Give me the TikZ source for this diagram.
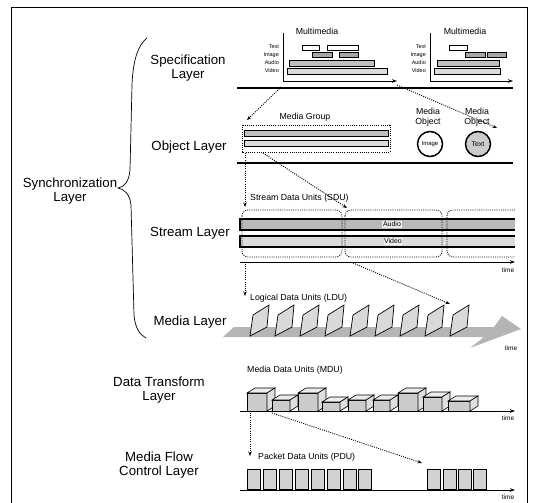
\documentclass[tikz,border=0pt]{standalone}
\usepackage{fontspec}
\setmainfont{Liberation Sans}
\usetikzlibrary{arrows.meta}
\begin{document}
\begin{tikzpicture}[x=1bp,y=-1bp,
  lay/.style={font=\fontsize{13.3}{14.5}\selectfont, align=center, inner sep=0},
  mid/.style={font=\fontsize{8.8}{10.5}\selectfont, inner sep=0, align=center},
  rowlab/.style={font=\fontsize{5.5}{6}\selectfont, inner sep=0, anchor=east},
  timelab/.style={font=\fontsize{6.5}{7}\selectfont, inner sep=0},
  sep/.style={line width=1.4pt},
  axisline/.style={line width=0.8pt},
  axisarr/.style={line width=0.8pt, -{Stealth[length=5pt,width=3.5pt]}},
  dotarr/.style={line width=0.9pt, dash pattern=on 1pt off 1.2pt, -{Stealth[length=4.5pt,width=3.5pt]}},
  dotline/.style={line width=0.8pt, dash pattern=on 1pt off 1.2pt},
  whitebox/.style={draw, line width=0.6pt, fill=white},
  darkbox/.style={draw, line width=0.6pt, fill=gray!70},
  midbox/.style={draw, line width=0.6pt, fill=gray!50},
  lightbox/.style={draw, line width=0.6pt, fill=gray!28},
  unitbox/.style={draw, line width=0.7pt, fill=gray!35},
]
\useasboundingbox (0,0) rectangle (533,503);
% frame
\draw[line width=0.6pt] (11,503) -- (11,7) -- (527,7) -- (527,503);

% layer labels
\node[lay] (spec) at (188,68) {Specification\\Layer};
\node[lay] (obj) at (189,147) {Object Layer};
\node[lay] (sync) at (70,191) {Synchronization\\Layer};
\node[lay] (strm) at (190,233) {Stream Layer};
\node[lay] (medl) at (190,322) {Media Layer};
\node[lay] (dtl) at (159,390) {Data Transform\\Layer};
\node[lay] (mfc) at (159,465) {Media Flow\\Control Layer};

% brace
\draw[line width=0.7pt] (147,38) .. controls (138,45) and (133,60) .. (132,85)
  -- (130,170) .. controls (129,182) and (124,187) .. (118,188)
  .. controls (124,189) and (130,194) .. (131,205)
  -- (134,315) .. controls (135,328) and (140,335) .. (146,338);

% separators
\coordinate (s1l) at (237,88); \coordinate (s1r) at (513,88);
\coordinate (s2l) at (237,163); \coordinate (s2r) at (513,163);
\draw[sep] (s1l) -- (s1r);
\draw[sep] (s2l) -- (s2r);

% ---------- Specification layer ----------
\node[mid] (mm1) at (317,31) {Multimedia};
\node[mid] (mm2) at (465,31) {Multimedia};
\coordinate (g1t) at (283,33); \coordinate (g1o) at (283,81); \coordinate (g1e) at (397,81);
\draw[axisline] (g1t) -- (g1o);
\draw[axisarr] (g1o) -- (g1e);
\node[rowlab] (g1text) at (279,47) {Text};
\node[rowlab] (g1img) at (279,55) {Image};
\node[rowlab] (g1aud) at (279,63) {Audio};
\node[rowlab] (g1vid) at (279,71) {Video};
\draw[whitebox] (302,45) rectangle (319,50);
\draw[whitebox] (327,45) rectangle (358,50);
\draw[darkbox] (312,52.5) rectangle (332,57.5);
\draw[darkbox] (339,52.5) rectangle (358,57.5);
\draw[midbox] (289,60) rectangle (374,66);
\draw[lightbox] (287,68) rectangle (387,74.5);

\coordinate (g2t) at (430,33); \coordinate (g2o) at (430,81); \coordinate (g2e) at (513,81);
\draw[axisline] (g2t) -- (g2o);
\draw[axisarr] (g2o) -- (g2e);
\node[rowlab] (g2text) at (426,47) {Text};
\node[rowlab] (g2img) at (426,55) {Image};
\node[rowlab] (g2aud) at (426,63) {Audio};
\node[rowlab] (g2vid) at (426,71) {Video};
\draw[whitebox] (449,45) rectangle (467,50);
\draw[darkbox] (465,52.5) rectangle (485,57.5);
\draw[darkbox] (487,52.5) rectangle (506,57.5);
\draw[midbox] (437,60) rectangle (499,66);
\draw[lightbox] (434,68) rectangle (500,74.5);

% ---------- Object layer ----------
\node[mid] (mg) at (305,117) {Media Group};
\draw[dotline] (242,125) rectangle (390,152);
\draw[midbox] (244,130) rectangle (388,136);
\draw[lightbox] (244,140) rectangle (388,146);
\node[mid] (mo1) at (428,117) {Media\\Object};
\node[mid] (mo2) at (477,117) {Media\\Object};
\node[circle, draw, line width=1.5pt, fill=white, minimum size=25bp, inner sep=0,
  font=\fontsize{6}{7}\selectfont] (img) at (430,144) {Image};
\node[circle, draw, line width=1.5pt, fill=gray!40, minimum size=25bp, inner sep=0,
  font=\fontsize{7}{8}\selectfont] (txt) at (478,144) {Text};

\coordinate (a1s) at (281,87); \coordinate (a1e) at (247,120);
\draw[dotarr] (a1s) -- (a1e);
\coordinate (a2s) at (397,85); \coordinate (a2e) at (497,128);
\draw[dotarr] (a2s) -- (a2e);

% ---------- Stream layer ----------
\coordinate (b1s) at (245,153); \coordinate (b1e) at (245,207);
\draw[dotarr] (b1s) -- (b1e);
\coordinate (b2s) at (263,153); \coordinate (b2e) at (347,208);
\draw[dotarr] (b2s) -- (b2e);
\node[mid, anchor=west] (sdu) at (250,198) {Stream Data Units (SDU)};
\fill[gray!55] (240,219) rectangle (515,230);
\fill[gray!28] (240,236) rectangle (515,247);
\draw[line width=1.3pt] (515,219) -- (240,219) -- (240,230) -- (515,230);
\draw[line width=1.3pt] (515,236) -- (240,236) -- (240,247) -- (515,247);
\node[font=\fontsize{7}{8}\selectfont, fill=gray!15, inner sep=0.6pt] (aud) at (392,224.5) {Audio};
\node[font=\fontsize{7}{8}\selectfont, fill=gray!10, inner sep=0.6pt] (vid) at (393,241.5) {Video};
\draw[dotline, rounded corners=6] (242,210) rectangle (342,257);
\draw[dotline, rounded corners=6] (345,210) rectangle (442,257);
\draw[dotline, rounded corners=6] (515,210) -- (447,210) -- (447,257) -- (515,257);
\coordinate (t1s) at (240,262); \coordinate (t1e) at (515,262);
\draw[axisarr] (t1s) -- (t1e);
\node[timelab] (time1) at (508,270) {time};

% ---------- Media layer ----------
\coordinate (c1s) at (245,264); \coordinate (c1e) at (245,296);
\draw[dotarr] (c1s) -- (c1e);
\coordinate (c2s) at (353,263); \coordinate (c2e) at (450,304);
\draw[dotarr] (c2s) -- (c2e);
\node[mid, anchor=west] (ldu) at (250,298) {Logical Data Units (LDU)};
\fill[gray!58] (223,337) -- (234,327) -- (494,327) -- (502,316) -- (521,329)
  -- (470,348) -- (484,337) -- cycle;
\foreach \i in {0,...,8}{
  \pgfmathsetmacro{\xx}{250+25*\i}
  \draw[unitbox, fill=gray!30] (\xx,336) -- (\xx+3,315) -- (\xx+19,305) -- (\xx+17,327) -- cycle;
}
\node[timelab] (time2) at (511,348) {time};

% ---------- Data transform layer ----------
\node[mid, anchor=west] (mdu) at (247,370) {Media Data Units (MDU)};
\foreach \x/\w/\h [count=\k] in {247/20/18, 272/18/11, 298/20/18, 322/18/9, 348/18/11,
    373/17/11, 398/20/18, 423/19/14, 448/22/10}{
  \draw[line width=0.6pt, fill=gray!40] (\x,411-\h) rectangle (\x+\w,411);
  \draw[line width=0.6pt, fill=gray!15] (\x,411-\h) -- (\x+8,406-\h) -- (\x+\w+8,406-\h) -- (\x+\w,411-\h) -- cycle;
  \draw[line width=0.6pt, fill=gray!25] (\x+\w,411) -- (\x+\w,411-\h) -- (\x+\w+8,406-\h) -- (\x+\w+8,406) -- cycle;
}
\coordinate (t3s) at (240,411); \coordinate (t3e) at (515,411);
\draw[axisarr] (t3s) -- (t3e);
\node[timelab] (time3) at (508,418) {time};

% ---------- Media flow control layer ----------
\coordinate (d1s) at (250,413); \coordinate (d1e) at (250,456);
\draw[dotarr] (d1s) -- (d1e);
\coordinate (d2s) at (272,413); \coordinate (d2e) at (422,463);
\draw[dotarr] (d2s) -- (d2e);
\node[mid, anchor=west] (pdu) at (258,457) {Packet Data Units (PDU)};
\foreach \x in {247,263,279,295,311,327,343,358,427,443,458,473}{
  \draw[unitbox] (\x,469) rectangle (\x+13,489);
}
\coordinate (t4s) at (240,490); \coordinate (t4e) at (515,490);
\draw[axisarr] (t4s) -- (t4e);
\node[timelab] (time4) at (508,497) {time};
\end{tikzpicture}
\end{document}
